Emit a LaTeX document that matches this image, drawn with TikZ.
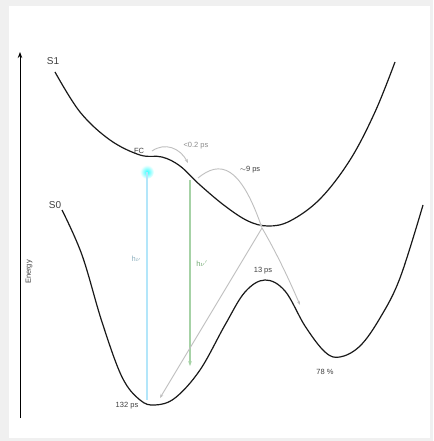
\documentclass[tikz,border=0pt]{standalone}
\usepackage{fontspec}
\setmainfont{Liberation Sans}
\usetikzlibrary{arrows.meta}
\begin{document}
\begin{tikzpicture}[x=1pt,y=-1pt,
  curve/.style={line width=1.2pt,black!90},
  dyn/.style={line width=0.9pt,gray!50,-{Stealth[length=4pt]}},
  lab/.style={font=\fontsize{7.5}{8}\selectfont,text=black!75,inner sep=1pt},
  exc/.style={line width=1.1pt}]
\useasboundingbox (0,0) rectangle (433,441);
\fill[black!6] (0,0) rectangle (433,441);
\fill[white] (9,6) rectangle (430,438);
% axis
\coordinate (ax0) at (20,418);
\coordinate (ax1) at (20,52);
\draw[line width=1pt,-{Stealth[length=6pt]}] (ax0) -- (ax1);
\node[lab,rotate=90] (energy) at (29,272) {Energy};
\node[lab,font=\fontsize{10}{11}\selectfont] (s1) at (53,61) {S1};
\node[lab,font=\fontsize{10}{11}\selectfont] (s0) at (55,205) {S0};
% S1 curve
\draw[curve] plot[smooth,tension=0.6] coordinates {(55,72) (80,112) (110,140) (140,155) (162,157) (180,166) (200,185) (225,206) (248,221) (268,226) (290,221) (320,199) (350,160) (375,112) (395,62)};
% S0 curve
\draw[curve] plot[smooth,tension=0.6] coordinates {(62,210) (82,255) (102,322) (122,377) (140,400) (155,405) (175,398) (200,370) (225,325) (245,292) (265,280) (285,291) (305,326) (325,352) (340,357) (360,346) (380,318) (400,278) (423,205)};
% key points
\coordinate (fc) at (147,172);
\coordinate (fcb) at (147,400);
\coordinate (gr0) at (190,180);
\coordinate (gr1) at (190,366);
\coordinate (ci) at (262,228);
\coordinate (mL) at (160,398);
\coordinate (mR) at (300,305);
% excitation lines
\shade[inner color=cyan!80,outer color=white] (fc) circle (7);
\draw[exc,cyan!30] (fc) -- (fcb);
\draw[exc,green!50!black!35,-{Stealth[length=5pt]}] (gr0) -- (gr1);
\node[lab,text=cyan!50!black!55] (hv1) at (136,259) {h$\nu$};
\node[lab,text=green!40!black!55] (hv2) at (202,264) {h$\nu'$};
% dynamics arrows
\coordinate (d1a) at (152,151);
\coordinate (d1b) at (188,163);
\draw[dyn] (d1a) .. controls (165,142) and (180,148) .. (d1b);
\coordinate (d2a) at (198,178);
\draw[dyn] (d2a) .. controls (220,160) and (240,165) .. (ci);
\draw[dyn] (ci) -- (mL);
\draw[dyn] (ci) .. controls (272,245) and (285,270) .. (mR);
% labels
\node[lab] (fclab) at (139,151) {FC};
\node[lab,text=black!45] (t1) at (196,146) {<0.2 ps};
\node[lab] (t2) at (250,170) {$\sim$9 ps};
\node[lab] (t3) at (263,271) {13 ps};
\node[lab] (t4) at (127,406) {132 ps};
\node[lab] (t5) at (325,372) {78 \%};
\end{tikzpicture}
\end{document}
